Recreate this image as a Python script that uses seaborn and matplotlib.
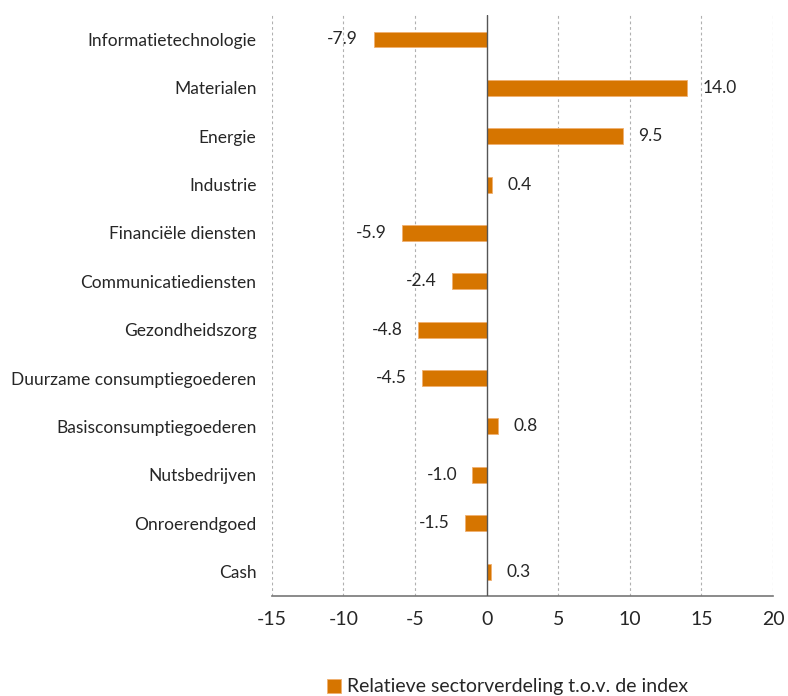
import numpy as np
import pandas as pd
import matplotlib.pyplot as plt
import seaborn as sns

sns.set_style("white")
plt.rcParams['font.family'] = ['Lato', 'DejaVu Sans']

sectors = ["Informatietechnologie", "Materialen", "Energie", "Industrie",
           "Financiële diensten", "Communicatiediensten", "Gezondheidszorg",
           "Duurzame consumptiegoederen", "Basisconsumptiegoederen",
           "Nutsbedrijven", "Onroerendgoed", "Cash"]
values = [-7.9, 14.0, 9.5, 0.4, -5.9, -2.4, -4.8, -4.5, 0.8, -1.0, -1.5, 0.3]
ticks = [-15, -10, -5, 0, 5, 10, 15, 20]

df = pd.DataFrame({"sector": sectors, "value": values})
color = "#D67500"

fig = plt.figure(figsize=(7.88, 6.96), dpi=100)
ax = fig.add_axes([0.345, 0.144, 0.636, 0.834])

sns.barplot(data=df, x="value", y="sector", color=color, width=0.33,
            edgecolor="#F0B070", linewidth=0.6, saturation=1, ax=ax,
            label="Relatieve sectorverdeling t.o.v. de index")

ax.set_xlim(-15, 20)
ax.set_ylim(11.5, -0.5)
ax.set_xticks(ticks)
ax.set_xticklabels([str(t) for t in ticks], fontsize=14)
ax.tick_params(axis="x", direction="out", length=5, color="#777777", pad=6)
ax.tick_params(axis="y", length=0, labelsize=12.5, pad=11)
ax.set_xlabel("")
ax.set_ylabel("")

for t in ticks:
    if t != 0:
        ax.axvline(t, color="#B0B0B0", linestyle=(0, (2.5, 2.5)), linewidth=0.8, zorder=0)
ax.axvline(0, color="#555555", linewidth=1.0, zorder=3)

for s in ["top", "right", "left"]:
    ax.spines[s].set_visible(False)
ax.spines["bottom"].set_color("#777777")
ax.spines["bottom"].set_linewidth(1.2)

for i, v in enumerate(values):
    if v >= 0:
        ax.annotate(f"{v:.1f}", (v, i), xytext=(11, 0), textcoords="offset points",
                    va="center", ha="left", fontsize=12.5)
    else:
        ax.annotate(f"{v:.1f}", (v, i), xytext=(-11, 0), textcoords="offset points",
                    va="center", ha="right", fontsize=12.5)

ax.legend(loc="center", bbox_to_anchor=(0.47, -0.157), frameon=False,
          fontsize=14, handlelength=0.75, handleheight=0.75, handletextpad=0.3)

fig.savefig("out.png", dpi=100)
